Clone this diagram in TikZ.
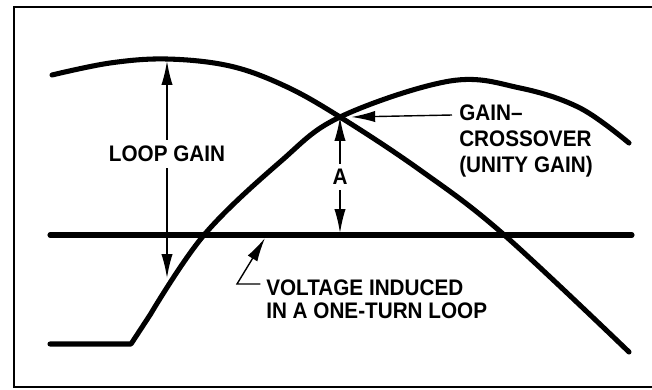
\documentclass[tikz,border=0pt]{standalone}
\usepackage{fontspec}
\setmainfont{Liberation Sans}[FakeStretch=0.92]
\usetikzlibrary{arrows.meta}
\begin{document}
\begin{tikzpicture}[
    x=0.025cm, y=-0.025cm,
    curve/.style={line width=3.6pt, line cap=round, line join=round},
    frame/.style={line width=1.5pt},
    dim_arrow/.style={line width=1pt, >={Latex[length=17pt,width=8pt]}},
    label/.style={
        font=\fontsize{16}{18}\selectfont\bfseries,
        inner sep=0pt,
        align=left
    },
    gap/.style={fill=white, inner xsep=2pt, inner ysep=4pt}
]
\useasboundingbox (0,0) rectangle (652,389);

% Frame
\draw[frame] (652,7) -- (14,7) -- (14,387) -- (652,387);

% Points
\coordinate (lg_top) at (167,61);
\coordinate (lg_bot) at (167,278);
\coordinate (xover) at (340,117);
\coordinate (a_bot) at (340,233);
\coordinate (x_tail) at (452,115);
\coordinate (v_tip) at (265,238);
\coordinate (v_bend) at (237,284);

% Curves
\draw[curve] plot[smooth, tension=0.6] coordinates
{(52,75) (110,63) (167,59) (230,66) (285,86) (340,117) (420,170) (502,233) (629,352)};

\draw[curve] (50,344) -- (131,344) -- plot[smooth, tension=0.6] coordinates
{(150,315) (204,235) (280,162) (340,117) (450,81) (520,88) (580,108) (629,143)};

% Induced voltage
\draw[curve] (50,235) -- (632,235);

% Arrows
\draw[dim_arrow,<->] (lg_top) -- (lg_bot);
\draw[dim_arrow,<->] (xover) -- (a_bot);
\draw[dim_arrow,->] (x_tail) -- ([xshift=8]xover);

% Labels
\node[label,gap] (loop_gain) at (167,154) {LOOP GAIN};
\node[label,gap] (a_label) at (340,177) {A};

\node[label,anchor=west,font=\fontsize{16}{18.5}\selectfont\bfseries] (xover_label) at (459,141)
{GAIN--\\
CROSSOVER\\
(UNITY GAIN)};

\node[label,anchor=west,font=\fontsize{16}{16.5}\selectfont\bfseries] (volt_label) at (266,299)
{VOLTAGE INDUCED\\
IN A ONE-TURN LOOP};

\draw[dim_arrow,->] ([xshift=-4]volt_label.west |- v_bend) -- (v_bend) -- (v_tip);

\end{tikzpicture}
\end{document}
